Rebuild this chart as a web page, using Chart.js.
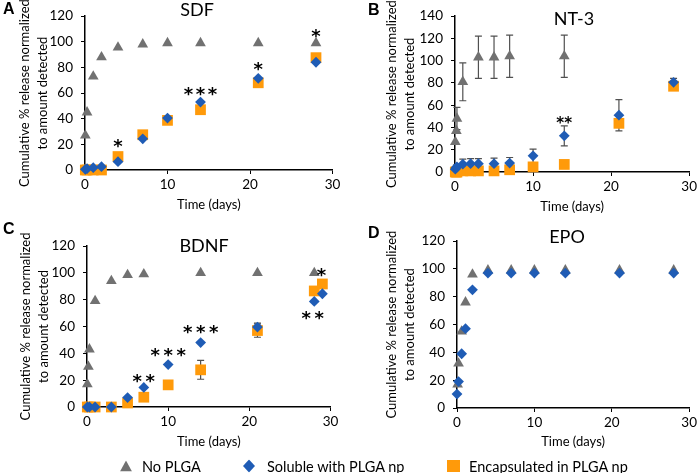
<!DOCTYPE html>
<html>
<head>
<meta charset="utf-8">
<script src="https://cdn.jsdelivr.net/npm/chart.js@4.4.0/dist/chart.umd.min.js"></script>
<style>
  body { margin: 0; background: #fff; font-family: Lato, 'Liberation Sans', sans-serif; }
  #wrap { position: relative; width: 700px; height: 473px; overflow: hidden; background: #fff; }
  canvas { position: absolute; }
  .letter { position: absolute; font-family: 'Liberation Sans', Arial, sans-serif; font-weight: bold; font-size: 16px; line-height: 16px; color: #000; }
  .ttl { position: absolute; font-size: 18px; line-height: 18px; color: #000; transform: translate(-50%, -50%); white-space: nowrap; }
  .leg { position: absolute; top: 466px; transform: translateY(-50%); font-size: 14.5px; color: #000; white-space: nowrap; }
  .legsym { position: absolute; top: 466px; transform: translateY(-50%); }
</style>
</head>
<body>
<div id="wrap">
  <canvas id="cA" width="350" height="225" style="left:0;top:0"></canvas>
  <canvas id="cB" width="350" height="225" style="left:350px;top:0"></canvas>
  <canvas id="cC" width="350" height="235" style="left:0;top:225px"></canvas>
  <canvas id="cD" width="350" height="235" style="left:350px;top:225px"></canvas>

  <div class="letter" style="left:3px;top:1px">A</div>
  <div class="letter" style="left:368px;top:2px">B</div>
  <div class="letter" style="left:3px;top:221px">C</div>
  <div class="letter" style="left:368px;top:225px">D</div>

  <div class="ttl" style="left:197px;top:9px">SDF</div>
  <div class="ttl" style="left:574px;top:18px">NT-3</div>
  <div class="ttl" style="left:204px;top:245px">BDNF</div>
  <div class="ttl" style="left:567px;top:236px">EPO</div>

  <svg class="legsym" style="left:120px" width="12" height="11"><polygon points="6,0 12,11 0,11" fill="#717171"/></svg>
  <div class="leg" style="left:142px">No PLGA</div>
  <svg class="legsym" style="left:243px" width="12" height="13"><polygon points="6,0 12,6.5 6,13 0,6.5" fill="#1f5cb5"/></svg>
  <div class="leg" style="left:267px">Soluble with PLGA np</div>
  <svg class="legsym" style="left:447px" width="13" height="12"><rect width="13" height="12" fill="#ff9a0a"/></svg>
  <div class="leg" style="left:469px">Encapsulated in PLGA np</div>
</div>

<script>
// ---- data (days, % cumulative release) ----
const sdfDays    = [0.04, 0.25, 1, 2, 4, 7, 10, 14, 21, 28];
const sdfNoPlga  = [27, 45, 73, 88, 95.5, 98, 99, 99, 99, 99];
const sdfSoluble = [0.5, 1, 1.8, 2.6, 6.5, 24.3, 40.5, 53, 71.5, 84];
const sdfEncap   = [0, 0, 0, 0, 10.5, 27.5, 38.7, 47, 68, 87.6];
const sdfStarX = [4, 14, 21, 28];
const sdfStarY = [22, 63, 82, 108];
const sdfStarN = [1, 3, 1, 1];

const nt3Days       = [0.04, 0.17, 0.25, 1, 2, 3, 5, 7, 10, 14, 21, 28];
const nt3NoPlga     = [27, 37, 48, 81, null, 103, 103, 104, null, 104, null, null];
const nt3NoPlgaErr  = [0, 0, 10, 17, null, 19, 19, 19, null, 19, null, null];
const nt3Soluble    = [2.5, 4, 4.6, 7, 7.5, 7.5, 7.5, 8, 14.5, 32.5, 51, 80.5];
const nt3SolubleErr = [1, 2, 2, 4.5, 4.5, 4.5, 5, 5, 6, 9, 14, 3.5];
const nt3Encap      = [0, 0, 0, 1, 1, 1, 1, 2, 4.6, 6.8, 43.7, 77];
const nt3EncapErr   = [0, 0, 0, 0, 0, 0, 0, 0, 0, 0, 0, 3];
const nt3StarX = [14];
const nt3StarY = [47];
const nt3StarN = [2];

const bdnfDays     = [0.04, 0.17, 0.3, 1, 3, 5, 7, 10, 14, 21, 28, 29];
const bdnfNoPlga   = [17, 30, 43, 79, 94, 98.5, 99, null, 100, 100, 100, null];
const bdnfSoluble  = [0, null, 0, 0, 0, 7, 14.6, 31.6, 48, 59.6, 78.7, 84.4];
const bdnfSolErr   = [0, null, 0, 0, 0, 0, 0, 0, 0, 3, 0, 0];
const bdnfEncap    = [0, null, 0, 0, 0, 3, 7.3, 16.5, 27.7, 57, 86.5, 91.7];
const bdnfEncapErr = [0, null, 0, 0, 0, 0, 0, 3, 7, 5, 0, 0];
const bdnfStarX = [7, 10, 14, 28.9, 27.8];
const bdnfStarY = [23, 42, 59, 102, 70];
const bdnfStarN = [2, 3, 3, 1, 2];

const epoDays    = [0, 0.08, 0.2, 0.6, 1.1, 2, 4, 7, 10, 14, 21, 28];
const epoNoPlga  = [null, 17, 32, 55, 76, 96, 99, 99, 99, 99, 99, 99];
const epoSoluble = [10, null, 19, 39, 57, 85, 97, 97, 97, 97, 97, 97];

const yTitle = ['Cumulative % release normalized', 'to amount detected'];

// ---- styles ----
const gray = '#717171', blue = '#1f5cb5', orange = '#ff9a0a';

function pts(days, vals, errs) {
    const out = [];
    days.forEach((d, i) => {
        if (vals[i] == null) return;
        out.push({ x: d, y: vals[i], e: errs ? errs[i] : 0 });
    });
    return out;
}

function series(kind, data) {
    const st = {
        tri:  { pointStyle: 'triangle', radius: 6.2, color: gray,   order: 3 },
        dia:  { pointStyle: 'rectRot',  radius: 5.4, color: blue,   order: 1 },
        sq:   { pointStyle: 'rect',     radius: 7.6, color: orange, order: 2 }
    }[kind];
    return {
        data: data,
        showLine: false,
        pointStyle: st.pointStyle,
        pointRadius: st.radius,
        pointHoverRadius: st.radius,
        pointBackgroundColor: st.color,
        pointBorderColor: st.color,
        pointBorderWidth: 0,
        order: st.order,
        clip: false
    };
}

// error bars, drawn under the markers
const errorBars = {
    id: 'errorBars',
    beforeDatasetsDraw(chart) {
        const ctx = chart.ctx, xs = chart.scales.x, ys = chart.scales.y;
        ctx.save();
        ctx.strokeStyle = '#505050';
        ctx.lineWidth = 1.2;
        chart.data.datasets.forEach(ds => {
            ds.data.forEach(p => {
                if (!p.e) return;
                const px = xs.getPixelForValue(p.x);
                const top = ys.getPixelForValue(p.y + p.e);
                const bot = ys.getPixelForValue(Math.max(0, p.y - p.e));
                ctx.beginPath();
                ctx.moveTo(px, top); ctx.lineTo(px, bot);
                ctx.moveTo(px - 3.5, top); ctx.lineTo(px + 3.5, top);
                ctx.moveTo(px - 3.5, bot); ctx.lineTo(px + 3.5, bot);
                ctx.stroke();
            });
        });
        ctx.restore();
    }
};

// significance asterisks
const stars = {
    id: 'stars',
    afterDatasetsDraw(chart, args, opts) {
        if (!opts.x) return;
        const ctx = chart.ctx, xs = chart.scales.x, ys = chart.scales.y;
        ctx.save();
        ctx.fillStyle = '#000';
        ctx.font = 'bold ' + opts.size + 'px "DejaVu Sans"';
        ctx.textAlign = 'center';
        ctx.textBaseline = 'alphabetic';
        opts.x.forEach((x, i) => {
            const cx = xs.getPixelForValue(x);
            const cy = ys.getPixelForValue(opts.y[i]) + opts.size * 0.58;
            const n = opts.n[i];
            for (let k = 0; k < n; k++) {
                ctx.fillText('*', cx + (k - (n - 1) / 2) * opts.gap, cy);
            }
        });
        ctx.restore();
    }
};

// box: plot area wanted inside the canvas, ty: first y-title line x, tx: x-title centre y
function makePanel(id, box, yMax, datasets, starOpts) {
    const canvas = document.getElementById(id);
    const W = canvas.width, H = canvas.height;
    const tickFont = { family: 'Lato', size: 13.5 };
    const padL = box.ty - 9 - 8;
    const padB = H - (box.tx + 11.8);
    const yWidth = box.left - padL;
    const xHeight = H - padB - box.bottom;
    return new Chart(canvas.getContext('2d'), {
        type: 'scatter',
        data: { datasets: datasets },
        plugins: [errorBars, stars],
        options: {
            responsive: false,
            animation: false,
            layout: { padding: { left: padL, right: W - box.right - 7.5, top: box.top - 8, bottom: padB } },
            plugins: { legend: { display: false }, tooltip: { enabled: false }, stars: starOpts },
            scales: {
                x: {
                    type: 'linear', min: 0, max: 30,
                    afterFit: s => { s.height = xHeight; },
                    ticks: { stepSize: 10, color: '#000', font: tickFont, padding: 3, maxRotation: 0 },
                    grid: { drawOnChartArea: false, drawTicks: true, tickLength: 4, color: '#000', tickColor: '#000' },
                    border: { color: '#000', width: 1.5 },
                    title: { display: true, text: 'Time (days)', color: '#000', font: { family: 'Lato', size: 13 }, padding: { top: 2, bottom: 4 } }
                },
                y: {
                    type: 'linear', min: 0, max: yMax,
                    afterFit: s => { s.width = yWidth; },
                    ticks: { stepSize: 20, color: '#000', font: tickFont, padding: 8 },
                    grid: { drawOnChartArea: false, drawTicks: true, tickLength: 4, color: '#000', tickColor: '#000' },
                    border: { color: '#000', width: 1.5 },
                    title: { display: true, text: yTitle, color: '#000', font: { family: 'Lato', size: 13, lineHeight: '18px' }, padding: { top: 8, bottom: 0 } }
                }
            }
        }
    });
}

makePanel('cA', { left: 85, right: 325, top: 17, bottom: 170, ty: 25, tx: 205 }, 120, [
    series('tri', pts(sdfDays, sdfNoPlga)),
    series('dia', pts(sdfDays, sdfSoluble)),
    series('sq', pts(sdfDays, sdfEncap))
], { x: sdfStarX, y: sdfStarY, n: sdfStarN, size: 18, gap: 12 });

makePanel('cB', { left: 105, right: 342, top: 20, bottom: 172, ty: 42, tx: 207 }, 140, [
    series('tri', pts(nt3Days, nt3NoPlga, nt3NoPlgaErr)),
    series('dia', pts(nt3Days, nt3Soluble, nt3SolubleErr)),
    series('sq', pts(nt3Days, nt3Encap, nt3EncapErr))
], { x: nt3StarX, y: nt3StarY, n: nt3StarN, size: 15, gap: 8 });

makePanel('cC', { left: 87, right: 323, top: 29, bottom: 182, ty: 26, tx: 217 }, 120, [
    series('tri', pts(bdnfDays, bdnfNoPlga)),
    series('dia', pts(bdnfDays, bdnfSoluble, bdnfSolErr)),
    series('sq', pts(bdnfDays, bdnfEncap, bdnfEncapErr))
], { x: bdnfStarX, y: bdnfStarY, n: bdnfStarN, size: 18, gap: 13 });

makePanel('cD', { left: 107, right: 340, top: 23, bottom: 183, ty: 42, tx: 217 }, 120, [
    series('tri', pts(epoDays, epoNoPlga)),
    series('dia', pts(epoDays, epoSoluble))
], {});
</script>
</body>
</html>
